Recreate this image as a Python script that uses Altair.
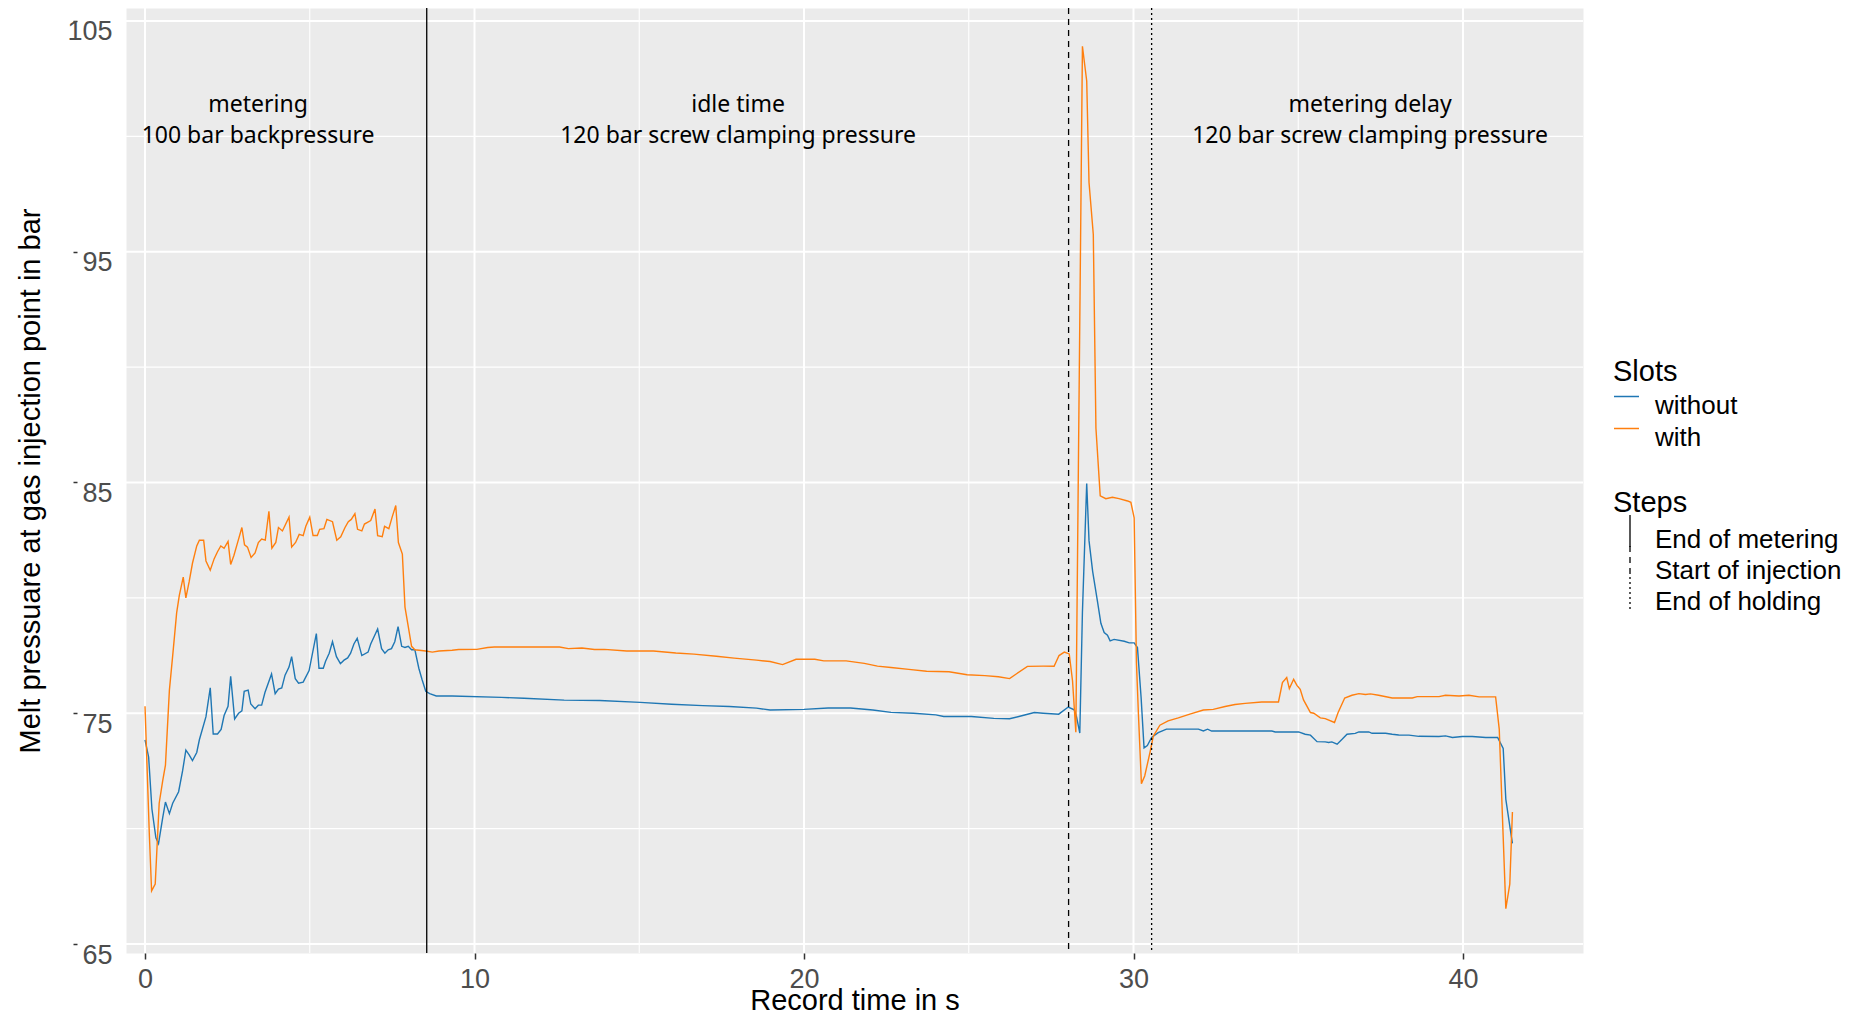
import altair as alt
import pandas as pd

# ---------------- data ----------------
t_without = [0, .11, .21, .33, .41, .54, .62, .74, .84, 1.02, 1.14, 1.24, 1.34, 1.44, 1.57, 1.65, 1.85,
             1.98, 2.07, 2.2, 2.31, 2.4, 2.52, 2.6, 2.72, 2.84, 2.94, 3.01, 3.13, 3.21, 3.34, 3.44, 3.54,
             3.64, 3.84, 3.95, 4.05, 4.15, 4.25, 4.37, 4.45, 4.56, 4.66, 4.8, 4.98, 5.2, 5.28, 5.41, 5.48,
             5.59, 5.69, 5.81, 5.93, 6.04, 6.15, 6.24, 6.34, 6.44, 6.58, 6.77, 6.85, 7.06, 7.18, 7.28,
             7.38, 7.48, 7.58, 7.68, 7.79, 7.89, 7.99, 8.09, 8.19, 8.31, 8.41, 8.52, 8.64, 8.84, 9.32,
             10.82, 11.5, 12.72, 13.8, 15.03, 15.98, 16.93, 17.74, 18.56, 18.97, 20.0, 20.73, 21.41,
             22.09, 22.64, 23.32, 24.0, 24.24, 25.08, 25.76, 26.24, 26.58, 26.99, 27.26, 27.73, 28.02,
             28.2, 28.27, 28.37, 28.45, 28.58, 28.65, 28.76, 28.91, 29.01, 29.11, 29.21, 29.29, 29.41,
             29.72, 29.87, 30.02, 30.12, 30.23, 30.32, 30.42, 30.55, 30.75, 31.0, 31.97, 32.12, 32.25,
             32.37, 34.2, 34.3, 35.01, 35.21, 35.37, 35.57, 35.82, 35.92, 36.02, 36.18, 36.33, 36.48,
             36.73, 36.84, 37.14, 37.24, 37.65, 37.85, 38.05, 38.36, 38.66, 39.27, 39.47, 39.68, 39.98,
             40.28, 40.69, 41.05, 41.22, 41.3, 41.45, 41.5]
p_without = [73.85, 73.1, 70.85, 69.6, 69.35, 70.5, 71.15, 70.65, 71.1, 71.6, 72.5, 73.4, 73.2, 72.95,
             73.3, 73.85, 74.85, 76.1, 74.1, 74.1, 74.3, 74.9, 75.3, 76.6, 74.75, 75.0, 75.1, 75.95,
             76.0, 75.4, 75.2, 75.35, 75.35, 75.9, 76.7, 75.85, 76.05, 76.1, 76.65, 77.0, 77.45, 76.5,
             76.3, 76.35, 76.85, 78.45, 76.95, 76.95, 77.25, 77.6, 78.1, 77.45, 77.15, 77.3, 77.4, 77.6,
             78.0, 78.25, 77.5, 77.65, 78.0, 78.65, 77.8, 77.6, 77.75, 77.8, 78.1, 78.75, 77.9, 77.85,
             77.9, 77.75, 77.75, 76.95, 76.45, 75.95, 75.85, 75.75, 75.75,
             75.69, 75.65, 75.57, 75.55, 75.47, 75.39, 75.33, 75.29, 75.22, 75.14, 75.17, 75.23, 75.23,
             75.14, 75.04, 75.0, 74.93, 74.86, 74.86, 74.78, 74.76, 74.88, 75.03, 75.0, 74.96, 75.27,
             75.15, 74.85, 74.14, 79.38, 84.96, 82.48, 81.15, 79.82, 78.9, 78.5, 78.38, 78.14, 78.2,
             78.12, 78.05, 78.05, 77.85, 75.7, 73.5, 73.6, 73.95, 74.16, 74.31, 74.31, 74.23, 74.31,
             74.23, 74.23, 74.19, 74.19, 74.09, 74.05, 73.77, 73.76, 73.73, 73.76, 73.66, 73.87, 74.09,
             74.13, 74.19, 74.19, 74.13, 74.13, 74.09, 74.06, 74.05, 74.0, 73.99, 74.02, 73.95, 73.99,
             73.99, 73.95, 73.95, 73.47, 71.27, 69.83, 69.36]

t_with = [0, .13, .2, .31, .43, .54, .62, .74, .84, .96, 1.04, 1.16, 1.24, 1.34, 1.44, 1.57, 1.65, 1.78,
          1.85, 1.98, 2.1, 2.2, 2.3, 2.4, 2.52, 2.6, 2.7, 2.82, 2.94, 3.02, 3.11, 3.22, 3.34, 3.44, 3.54,
          3.65, 3.76, 3.85, 3.97, 4.05, 4.17, 4.37, 4.45, 4.57, 4.68, 4.8, 4.88, 5.0, 5.1, 5.23, 5.3,
          5.43, 5.52, 5.69, 5.82, 5.94, 6.07, 6.17, 6.26, 6.37, 6.45, 6.58, 6.66, 6.85, 6.98, 7.06, 7.2,
          7.27, 7.4, 7.5, 7.61, 7.69, 7.81, 7.89, 7.99, 8.09, 8.19, 8.52, 8.72, 8.92, 9.32, 9.52, 10.07,
          10.4, 10.6, 11.09, 12.58, 12.85, 13.26, 13.64, 13.94, 14.62, 15.43, 16.11, 16.66, 17.34,
          17.88, 18.56, 18.97, 19.35, 19.76, 20.33, 20.6, 21.28, 21.83, 22.23, 22.64, 23.18, 23.72,
          24.4, 24.95, 25.49, 25.9, 26.24, 26.44, 26.78, 27.26, 27.59, 27.74, 27.9, 28.05, 28.15,
          28.25, 28.45, 28.58, 28.65, 28.78, 28.86, 28.99, 29.16, 29.36, 29.56, 29.82, 29.92, 30.02,
          30.09, 30.15, 30.24, 30.34, 30.5, 30.6, 30.8, 31.05, 31.36, 31.71, 32.12, 32.42, 32.78,
          33.08, 33.39, 33.89, 34.4, 34.52, 34.65, 34.73, 34.86, 34.96, 35.06, 35.16, 35.37, 35.47,
          35.67, 35.82, 36.1, 36.21, 36.41, 36.63, 36.84, 37.04, 37.19, 37.44, 37.85, 38.46, 38.61,
          39.27, 39.47, 39.88, 40.18, 40.49, 40.99, 41.1, 41.2, 41.3, 41.42, 41.5]
p_with = [75.3, 69.8, 67.3, 67.6, 71.1, 72.1, 72.75, 76.0, 77.5, 79.35, 80.1, 80.9, 80.0, 80.7, 81.5,
          82.25, 82.5, 82.5, 81.6, 81.2, 81.7, 82.0, 82.25, 82.15, 82.45, 81.45, 81.85, 82.45, 83.05,
          82.3, 82.2, 81.75, 81.95, 82.4, 82.55, 82.5, 83.75, 82.15, 82.4, 83.05, 82.9, 83.5, 82.2,
          82.4, 82.75, 82.7, 83.1, 83.5, 82.7, 82.7, 82.97, 83.0, 83.4, 83.3, 82.5, 82.65, 83.05,
          83.3, 83.4, 83.65, 82.97, 82.9, 83.2, 83.35, 83.85, 82.7, 82.65, 83.1, 83.0, 83.5, 84.0,
          82.4, 81.9, 79.6, 78.75, 77.9, 77.75, 77.7, 77.65, 77.7, 77.73, 77.76, 77.77, 77.85, 77.87,
          77.87, 77.87, 77.8, 77.83, 77.76, 77.77, 77.7, 77.7, 77.61, 77.56, 77.47, 77.39, 77.3,
          77.24, 77.11, 77.34, 77.34, 77.27, 77.27, 77.16, 77.04, 76.98, 76.9, 76.82, 76.8, 76.67,
          76.63, 76.58, 76.5, 76.7, 77.03, 77.04, 77.04, 77.5, 77.65, 77.57, 76.4, 74.18, 103.9,
          102.4, 98.0, 95.75, 87.35, 84.42, 84.3, 84.36, 84.3, 84.2, 84.14, 83.47, 77.17, 74.95,
          71.95, 72.28, 73.3, 74.0, 74.48, 74.67, 74.8, 74.96, 75.14, 75.17, 75.29, 75.38, 75.43,
          75.49, 75.49, 76.33, 76.55, 76.07, 76.47, 76.21, 76.04, 75.58, 75.03, 75.0, 74.8, 74.77,
          74.6, 75.03, 75.66, 75.78, 75.85, 75.81, 75.84, 75.78, 75.66, 75.66, 75.72, 75.72, 75.78,
          75.75, 75.78, 75.71, 75.71, 74.31, 70.4, 66.53, 67.59, 70.72]

slot_names = ["without", "with"]
slot_colors = ["#1f77b4", "#ff7f0e"]

step_names = ["End of metering", "Start of injection", "End of holding"]
step_times = [8.55, 28.03, 30.55]

ann_t = [3.43, 18.0, 37.18]
ann_p = [101.38, 101.38, 101.38]
ann_text = ["metering\n100 bar backpressure",
            "idle time\n120 bar screw clamping pressure",
            "metering delay\n120 bar screw clamping pressure"]

x_major = [0, 10, 20, 30, 40]
x_minor = [5, 15, 25, 35]
y_major = [65, 75, 85, 95, 105]
y_minor = [70, 80, 90, 100]

# ---------------- tables ----------------
df_lines = pd.concat([
    pd.DataFrame({"t": t_without, "p": p_without, "slot": "without"}),
    pd.DataFrame({"t": t_with, "p": p_with, "slot": "with"}),
])
df_steps = pd.DataFrame({"t": step_times, "step": step_names})
df_ann = pd.DataFrame({"t": ann_t, "p": ann_p, "label": ann_text})

FONT = "Liberation Sans"
xscale = alt.Scale(domain=[-0.577, 43.642], nice=False, zero=False)
yscale = alt.Scale(domain=[64.61, 105.563], nice=False, zero=False)

X_AXIS = alt.Axis(title="Record time in s", values=x_major, grid=False, domain=False,
                  tickSize=6, tickWidth=1.5, tickColor="#333333",
                  labelFont=FONT, labelFontSize=27, labelColor="#4D4D4D", labelPadding=7,
                  titleFont=FONT, titleFontSize=29, titleFontWeight="normal", titleColor="black",
                  titleBaseline="alphabetic", titleY=56)
Y_AXIS = alt.Axis(title="Melt pressuare at gas injection point in bar", values=y_major, grid=False,
                  domain=False, tickSize=4, tickWidth=1.5, tickColor="#333333", offset=49,
                  labelPadding=-39, labelOffset=11,
                  labelFont=FONT, labelFontSize=27, labelColor="#4D4D4D",
                  titleFont=FONT, titleFontSize=29, titleFontWeight="normal", titleColor="black",
                  titleAngle=270, titleBaseline="middle", titleX=-47)


def X(field):
    return alt.X(field, type="quantitative", scale=xscale, axis=X_AXIS)


def Y(field):
    return alt.Y(field, type="quantitative", scale=yscale, axis=Y_AXIS)


color_enc = alt.Color("slot:N", scale=alt.Scale(domain=slot_names, range=slot_colors), sort=slot_names,
                      legend=alt.Legend(title="Slots", orient="none", legendX=1487, legendY=350,
                                        symbolType="M-1,-0.72L1,-0.72", symbolSize=625,
                                        symbolStrokeWidth=1.5,
                                        labelFont=FONT, labelFontSize=26, labelColor="black",
                                        labelOffset=15, labelBaseline="middle", labelLimit=0,
                                        titleFont=FONT, titleFontSize=29, titleFontWeight="normal",
                                        titleColor="black", titlePadding=5, padding=0, rowPadding=5))

grid_y_major = alt.Chart(pd.DataFrame({"p": y_major})).mark_rule(color="white", strokeWidth=2).encode(y=Y("p"))
grid_y_minor = alt.Chart(pd.DataFrame({"p": y_minor})).mark_rule(color="white", strokeWidth=1.1).encode(y=Y("p"))
grid_x_major = alt.Chart(pd.DataFrame({"t": x_major})).mark_rule(color="white", strokeWidth=2).encode(x=X("t"))
grid_x_minor = alt.Chart(pd.DataFrame({"t": x_minor})).mark_rule(color="white", strokeWidth=1.1).encode(x=X("t"))

line_without = alt.Chart(df_lines).transform_filter(alt.datum.slot == "without").mark_line(
    strokeWidth=1.4).encode(x=X("t"), y=Y("p"), color=color_enc, order="t:Q")
line_with = alt.Chart(df_lines).transform_filter(alt.datum.slot == "with").mark_line(
    strokeWidth=1.4).encode(x=X("t"), y=Y("p"), color=color_enc, order="t:Q")

steps = alt.Chart(df_steps).mark_rule(color="black", strokeWidth=1.3).encode(
    x=X("t"),
    strokeDash=alt.StrokeDash("step:N", sort=step_names,
                              scale=alt.Scale(domain=step_names, range=[[1, 0], [6, 5], [2, 3]]),
                              legend=alt.Legend(title="Steps", orient="none", legendX=1487, legendY=481,
                                                symbolType="M0,-1.56L0,0.44", symbolSize=1024,
                                                symbolStrokeWidth=1.3, symbolStrokeColor="black",
                                                labelFont=FONT, labelFontSize=26, labelColor="black",
                                                labelOffset=8, labelBaseline="middle", labelLimit=0,
                                                titleFont=FONT, titleFontSize=29, titleFontWeight="normal",
                                                titleColor="black", titlePadding=5, padding=0,
                                                rowPadding=-10)),
)

ann = alt.Chart(df_ann).mark_text(lineBreak="\n", font="Noto Sans", fontSize=23, color="black",
                                  align="center", baseline="middle", lineHeight=31).encode(
    x=X("t"), y=Y("p"), text="label:N")

chart = alt.layer(grid_y_minor, grid_x_minor, grid_y_major, grid_x_major,
                  line_without, line_with, steps, ann).properties(
    width=1457, height=945,
    autosize=alt.AutoSizeParams(type="none"),
    padding={"left": 118, "top": 0, "right": 267, "bottom": 58},
    background="white",
).configure_view(fill="#EBEBEB", stroke="transparent")

chart.save("out.html", embed_options={"renderer": "svg", "actions": False})
